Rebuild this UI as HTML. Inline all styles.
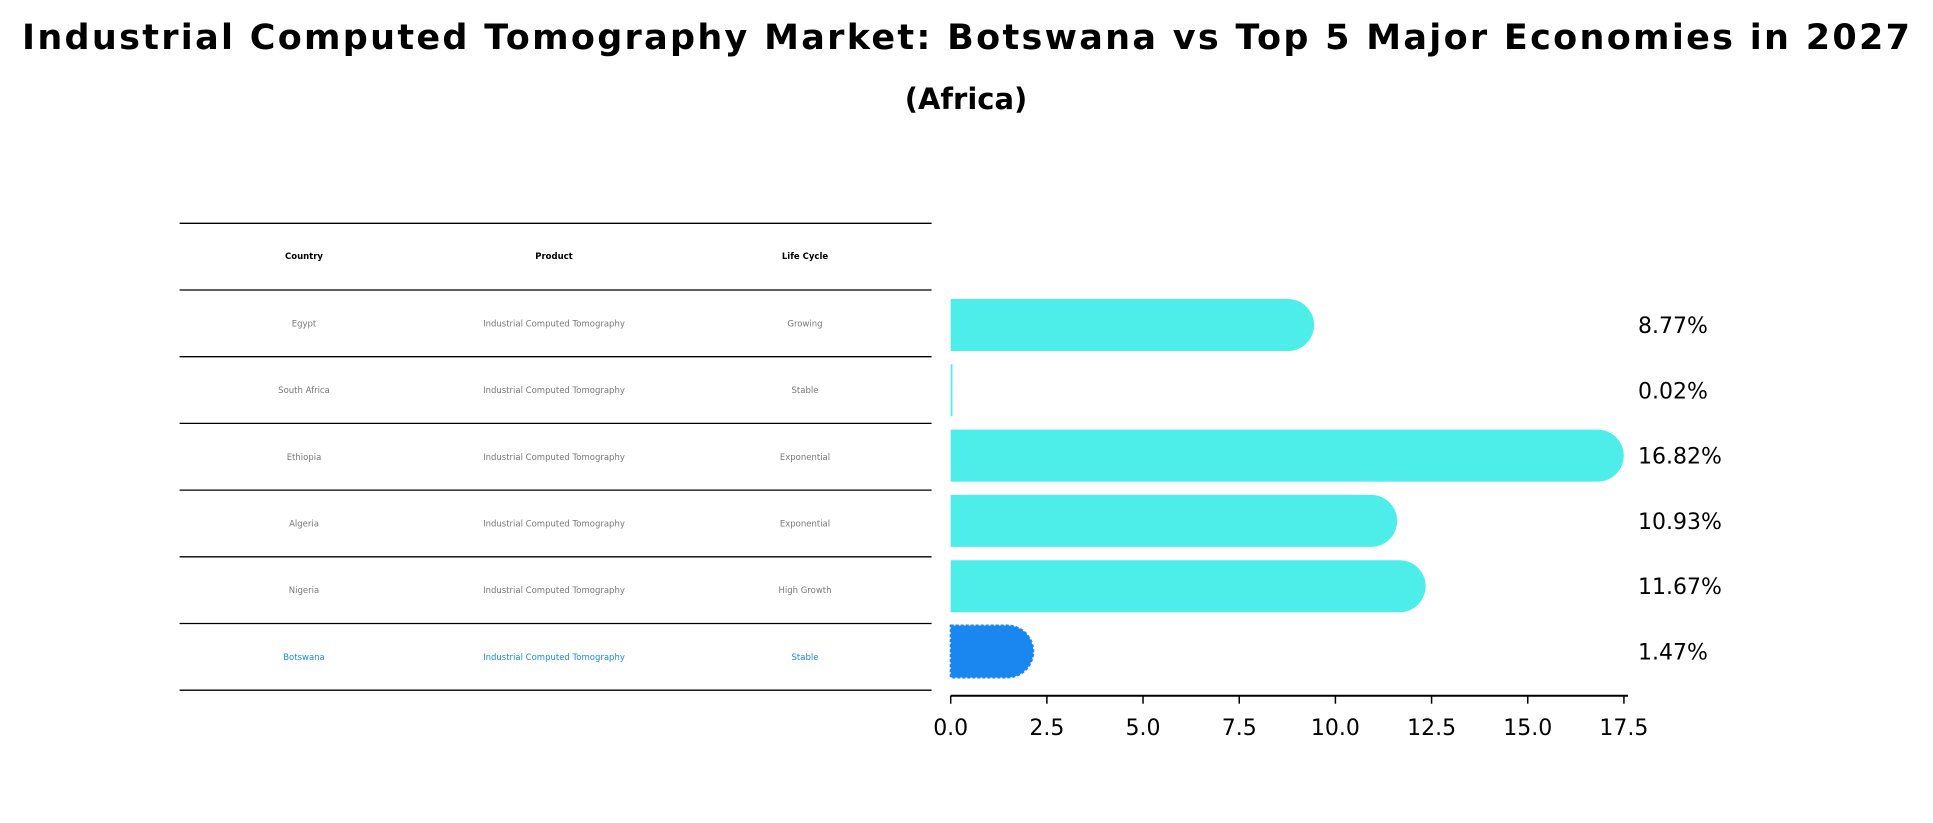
<!DOCTYPE html>
<html><head><meta charset="utf-8"><style>
html,body{margin:0;padding:0;background:#fff;}
svg{display:block;font-family:"DejaVu Sans","Liberation Sans",sans-serif;}
</style></head><body>
<svg id="chart" width="1933" height="823" viewBox="0 0 1933 823" xmlns="http://www.w3.org/2000/svg">
<text x="966" y="49" text-anchor="middle" font-size="35" font-weight="bold" textLength="1888" lengthAdjust="spacing">Industrial Computed Tomography Market: Botswana vs Top 5 Major Economies in 2027</text>
<text x="966" y="109" text-anchor="middle" font-size="29" font-weight="bold">(Africa)</text>
<g id="table"></g>
<g id="bars"></g>
<g id="xaxis"></g>
</svg>
<script>
const countries = ["Egypt","South Africa","Ethiopia","Algeria","Nigeria","Botswana"];
const products = ["Industrial Computed Tomography","Industrial Computed Tomography","Industrial Computed Tomography","Industrial Computed Tomography","Industrial Computed Tomography","Industrial Computed Tomography"];
const lifeCycles = ["Growing","Stable","Exponential","Exponential","High Growth","Stable"];
const values = [8.77,0.02,16.82,10.93,11.67,1.47];
const valueLabels = ["8.77%","0.02%","16.82%","10.93%","11.67%","1.47%"];
const xTicks = [0,2.5,5,7.5,10,12.5,15,17.5];
const xTickLabels = ["0.0","2.5","5.0","7.5","10.0","12.5","15.0","17.5"];

const NS="http://www.w3.org/2000/svg";
function mk(tag,attrs,parent,text){const e=document.createElementNS(NS,tag);for(const k in attrs)e.setAttribute(k,attrs[k]);if(text!==undefined)e.textContent=text;parent.appendChild(e);return e;}
const x0=950.7, pxPerUnit=38.47;
const xScale=v=>x0+v*pxPerUnit;
const rowTop=290, rowH=66.7;
const yCenter=i=>325+i*65.3;
const barH=52;

const tg=document.getElementById('table');
const lineYs=[223.3];
for(let i=0;i<=countries.length;i++) lineYs.push(rowTop+i*rowH);
lineYs.forEach((y,i)=>{
  const l=mk('line',{x1:179.6,x2:931.6,y1:y,y2:y,stroke:'#000','stroke-width':1.3},tg);
  
  
});
const colX=[304,554,805];
["Country","Product","Life Cycle"].forEach((h,j)=>{
  const t=mk('text',{x:colX[j],y:259,'text-anchor':'middle','font-size':8.5,'font-weight':'bold'},tg,h);
  
  
});
countries.forEach((c,i)=>{
  const cy=rowTop+i*rowH+rowH/2+3;
  const isB=c==="Botswana";
  const col=isB?'#1a87f0':'#777';
  [c,products[i],lifeCycles[i]].forEach((s,j)=>{
    const t=mk('text',{x:colX[j],y:cy,'text-anchor':'middle','font-size':8.5,fill:col},tg,s);
    
    
  });
});

const bg=document.getElementById('bars');
values.forEach((v,i)=>{
  const isB=countries[i]==="Botswana";
  const col=isB?'#1a87f0':'#4deeea';
  const xe=xScale(v), yc=yCenter(i), r=barH/2;
  let d;
  if(v<0.2){ d=`M${x0},${yc-r}H${xe+1}V${yc+r}H${x0}Z`; }
  else d=`M${x0},${yc-r}H${xe}A${r},${r} 0 0 1 ${xe},${yc+r}H${x0}Z`;
  const p=mk('path',{d:d,fill:col},bg);
  if(isB){p.setAttribute('stroke','#1a87f0');p.setAttribute('stroke-dasharray','3,2');p.setAttribute('stroke-width','2');}
  
  
  const t=mk('text',{x:1638,y:yc+8,'font-size':22,fill:'#000'},bg,valueLabels[i]);
  
  
});

const ax=document.getElementById('xaxis');
const axY=695.7;
const al=mk('line',{x1:x0,x2:1628,y1:axY,y2:axY,stroke:'#000','stroke-width':2},ax);


xTicks.forEach((v,i)=>{
  const tl=mk('line',{x1:xScale(v),x2:xScale(v),y1:axY,y2:axY+8,stroke:'#000','stroke-width':1.5},ax);
  
  
  const t=mk('text',{x:xScale(v),y:735,'text-anchor':'middle','font-size':22},ax,xTickLabels[i]);
  
  
});
</script>
</body></html>
